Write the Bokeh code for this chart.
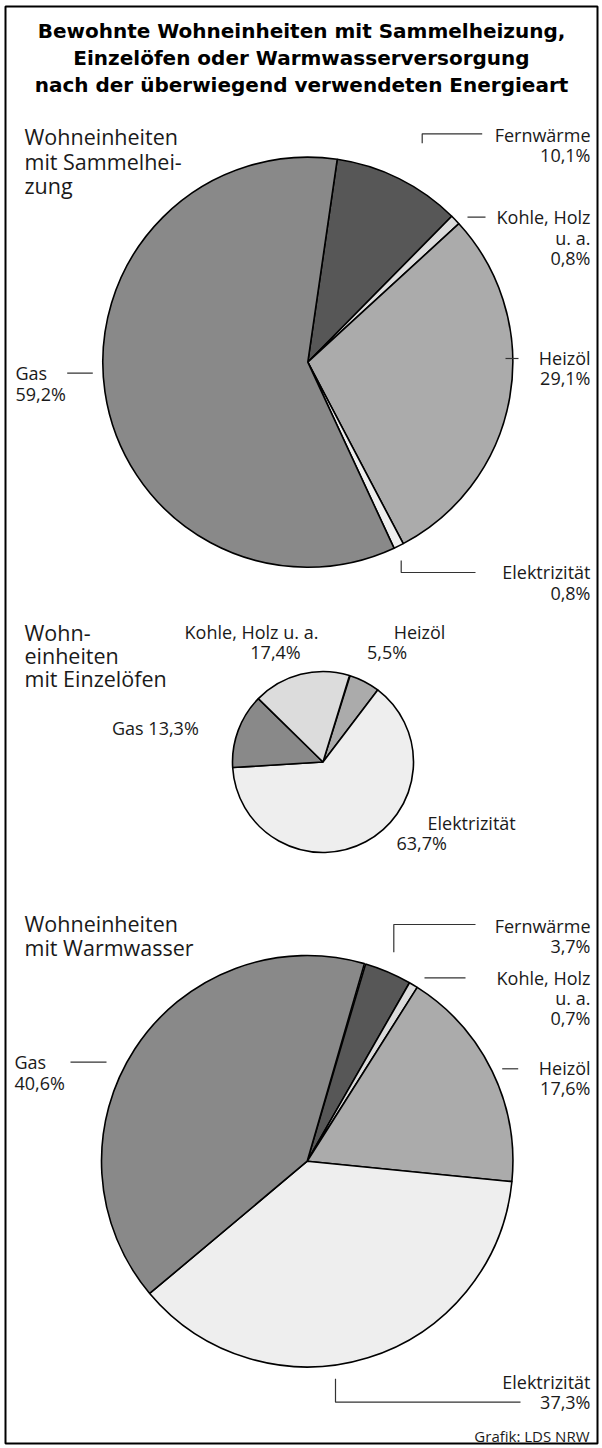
import math
from bokeh.plotting import figure
from bokeh.models import Range1d, ColumnDataSource
from bokeh.embed import file_html
from bokeh.resources import INLINE
from bokeh.core.properties import value

# ---------------- data ----------------
title_lines = ["Bewohnte Wohneinheiten mit Sammelheizung,",
               "Einzelöfen oder Warmwasserversorgung",
               "nach der überwiegend verwendeten Energieart"]
source_note = "Grafik: LDS NRW"

sammel_cats = ["Fernwärme", "Kohle, Holz u. a.", "Heizöl", "Elektrizität", "Gas"]
sammel_vals = [10.1, 0.8, 29.1, 0.8, 59.2]

einzel_cats = ["Heizöl", "Elektrizität", "Gas", "Kohle, Holz u. a."]
einzel_vals = [5.5, 63.7, 13.3, 17.4]

warm_cats = ["Fernwärme", "Kohle, Holz u. a.", "Heizöl", "Elektrizität", "Gas"]
warm_vals = [3.7, 0.7, 17.6, 37.3, 40.6]

section_titles = [["Wohneinheiten", "mit Sammelhei-", "zung"],
                  ["Wohn-", "einheiten", "mit Einzelöfen"],
                  ["Wohneinheiten", "mit Warmwasser"]]

# ---------------- style ----------------
colors = {"Fernwärme": "#575757", "Kohle, Holz u. a.": "#dcdcdc",
          "Heizöl": "#ababab", "Elektrizität": "#eeeeee", "Gas": "#898989"}
LABEL_FONT = "Open Sans"
TITLE_FONT = "DejaVu Sans"
TXT = "#1a1a1a"

W, H = 602, 1448


def Y(y):
    return H - y


def pct(v):
    return ("%.1f" % v).replace(".", ",") + "%"


def split_name(n):
    return ["Kohle, Holz", "u. a."] if n == "Kohle, Holz u. a." else [n]


p = figure(width=W, height=H, x_range=Range1d(0, W), y_range=Range1d(0, H),
           output_backend="svg", toolbar_location=None, min_border=0,
           x_axis_location=None, y_axis_location=None)
p.grid.visible = False
p.outline_line_color = None
p.background_fill_color = "white"
p.border_fill_color = "white"

# frame
p.quad(left=[5], right=[597], bottom=[Y(1443)], top=[Y(6)], fill_color=None,
       line_color="black", line_width=2)

# title
p.text(x=[301] * 3, y=[Y(30.5), Y(57.5), Y(84)], text=title_lines, text_align="center",
       text_baseline="middle", text_font=value(TITLE_FONT), text_font_style="bold",
       text_font_size="20px", text_color="black")

# ---------------- pies ----------------
pies = [
    dict(cats=sammel_cats, vals=sammel_vals, cx=307.3, cy=361.7, r=205, start=8.25),
    dict(cats=einzel_cats, vals=einzel_vals, cx=322.5, cy=761.5, r=90.5, start=17.4),
    dict(cats=warm_cats, vals=warm_vals, cx=306.7, cy=1160.7, r=205.7, start=16.5),
]

for pie in pies:
    starts, ends = [], []
    a = pie["start"]
    for v in pie["vals"]:
        b = a + v * 3.6
        starts.append(math.radians(90 - a))
        ends.append(math.radians(90 - b))
        a = b
    src = ColumnDataSource(dict(start=starts, end=ends,
                                color=[colors[c] for c in pie["cats"]]))
    p.wedge(x=pie["cx"], y=Y(pie["cy"]), radius=pie["r"], start_angle="start",
            end_angle="end", direction="clock", fill_color="color",
            line_color="black", line_width=1.6, source=src)

# ---------------- section titles ----------------
sec_pos = [(24, [136, 160.5, 185]), (24, [632, 655, 678]), (24, [923.3, 946.5])]
for lines, (sx, ys) in zip(section_titles, sec_pos):
    p.text(x=[sx] * len(lines), y=[Y(v) for v in ys], text=lines, text_align="left",
           text_baseline="middle", text_font=value(LABEL_FONT), text_font_size="21.5px",
           text_color=TXT)

# ---------------- labels ----------------
lab1 = {
    "Fernwärme": (590, 134.3, "right", [(421.7, 142.7), (421.7, 133.3), (481.7, 133.3)]),
    "Kohle, Holz u. a.": (590, 216.7, "right", [(467, 216.7), (485, 216.7)]),
    "Heizöl": (590, 357, "right", [(505, 358), (518, 358)]),
    "Elektrizität": (590, 571.7, "right", [(400.7, 560), (400.7, 572), (475, 572)]),
    "Gas": (15, 372.7, "left", [(66.7, 372.7), (92.3, 372.7)]),
}
lab3 = {
    "Fernwärme": (590, 925, "right", [(393.3, 951.7), (393.3, 924), (475, 924)]),
    "Kohle, Holz u. a.": (590, 977, "right", [(424, 977.3), (465, 977.3)]),
    "Heizöl": (590, 1067, "right", [(501.7, 1068.3), (517.7, 1068.3)]),
    "Elektrizität": (590, 1381, "right", [(335, 1378.3), (335, 1401.7), (520, 1401.7)]),
    "Gas": (14, 1061.7, "left", [(70, 1061.7), (106, 1061.7)]),
}
LS = 20.3

tx, ty, tt, ta = [], [], [], []
lx, ly = [], []
for cats, vals, lab in [(sammel_cats, sammel_vals, lab1), (warm_cats, warm_vals, lab3)]:
    for c, v in zip(cats, vals):
        x0, y0, al, lead = lab[c]
        lines = split_name(c) + [pct(v)]
        for i, ln in enumerate(lines):
            tx.append(x0); ty.append(Y(y0 + i * LS)); tt.append(ln); ta.append(al)
        lx.append([q[0] for q in lead]); ly.append([Y(q[1]) for q in lead])

lab2 = {
    "Heizöl": [(419, 631, "center"), (386.5, 651, "center")],
    "Elektrizität": [(427, 822, "left"), (396, 842, "left")],
    "Gas": [(111.5, 727, "left")],
    "Kohle, Holz u. a.": [(251, 631, "center"), (275, 651, "center")],
}
for c, v in zip(einzel_cats, einzel_vals):
    pos = lab2[c]
    lines = [c + " " + pct(v)] if len(pos) == 1 else [c, pct(v)]
    for (x0, y0, al), ln in zip(pos, lines):
        tx.append(x0); ty.append(Y(y0)); tt.append(ln); ta.append(al)

lab_src = ColumnDataSource(dict(x=tx, y=ty, text=tt, align=ta))
p.text(x="x", y="y", text="text", text_align="align", source=lab_src,
       text_baseline="middle", text_font=value(LABEL_FONT), text_font_size="18px",
       text_color=TXT)

p.multi_line(xs=lx, ys=ly, line_color="#333333", line_width=1.2)

p.text(x=[589], y=[Y(1435)], text=[source_note], text_align="right", text_baseline="middle",
       text_font=value(LABEL_FONT), text_font_size="15px", text_color=TXT)

open("out.html", "w").write(file_html(p, INLINE))
